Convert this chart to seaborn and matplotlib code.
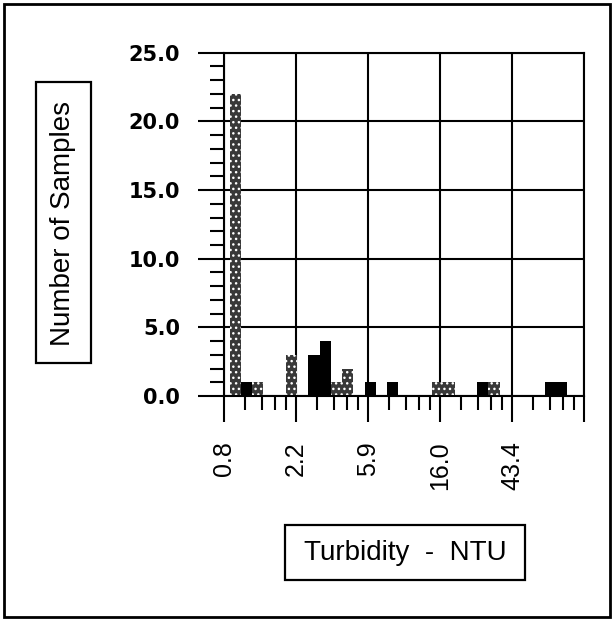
import numpy as np
import matplotlib
matplotlib.use("Agg")
import matplotlib.pyplot as plt
import matplotlib.transforms as mtransforms
from matplotlib.patches import Rectangle
from matplotlib.ticker import FixedLocator, MultipleLocator, NullFormatter
import seaborn as sns

# Bar centres (NTU) and counts
dark_ntu = [1.09, 2.78, 3.24, 6.06, 8.28, 28.9, 73.9, 86.3]
dark_counts = [1, 3, 4, 1, 1, 1, 1, 1]
stip_ntu = [0.93, 1.27, 2.03, 3.79, 4.43, 15.5, 18.1, 33.8]
stip_counts = [22, 1, 3, 1, 2, 1, 1, 1]

# Histogram classes: equal width on the log axis
first_edge = 0.86
bin_ratio = 1.1691
n_bins = 30

# Axis ticks
x_start = 0.795
x_labels = ["0.8", "2.2", "5.9", "16.0", "43.4", ""]
y_ticks = [0, 5, 10, 15, 20, 25]

sns.set_theme(style="ticks")
plt.rcParams["font.family"] = ["Liberation Sans", "DejaVu Sans"]
plt.rcParams["hatch.linewidth"] = 1.0
plt.rcParams["text.color"] = "black"

fig = plt.figure(figsize=(6.15, 6.21), dpi=100)
ax = fig.add_axes([0.3642, 0.3623, 0.5854, 0.5528])

# seaborn bins a log axis in log10 units
bw = np.log10(bin_ratio)
brange = (np.log10(first_edge), np.log10(first_edge) + n_bins * bw)

sns.histplot(x=dark_ntu, weights=dark_counts, binwidth=bw, binrange=brange,
             log_scale=True, color="black", alpha=1, edgecolor="black",
             linewidth=0, ax=ax)
sns.histplot(x=stip_ntu, weights=stip_counts, binwidth=bw, binrange=brange,
             log_scale=True, color="#383838", alpha=1, edgecolor="white",
             linewidth=0, hatch="...", ax=ax)

ax.set_xlabel("")
ax.set_ylabel("")

# x axis: log scale, one grid step = factor e
major = x_start * np.e ** np.arange(6)
minor = [m * (1 + j * (np.e - 1) / 5) for m in major[:-1] for j in range(1, 5)]
ax.set_xlim(major[0], major[-1])
ax.xaxis.set_major_locator(FixedLocator(major))
ax.xaxis.set_minor_locator(FixedLocator(minor))
ax.xaxis.set_minor_formatter(NullFormatter())
ax.set_xticklabels(x_labels, rotation=90, fontsize=18)
shift = mtransforms.ScaledTranslation(4 / 100, 0, fig.dpi_scale_trans)
for lab in ax.get_xticklabels():
    lab.set_transform(lab.get_transform() + shift)

# y axis
ax.set_ylim(0, 25)
ax.set_yticks(y_ticks)
ax.set_yticklabels([f"{v:.1f}" for v in y_ticks], fontsize=15,
                   fontweight="bold", family="DejaVu Sans")
ax.yaxis.set_minor_locator(MultipleLocator(1))

ax.tick_params(axis="both", which="major", length=18.5, width=1.5,
               color="black", labelcolor="black", direction="out",
               bottom=True, left=True)
ax.tick_params(axis="both", which="minor", length=10, width=1.5,
               color="black", direction="out", bottom=True, left=True)
ax.tick_params(axis="y", which="major", pad=13)
ax.tick_params(axis="x", which="major", pad=14)

ax.grid(True, which="major", color="black", linewidth=1.5)
ax.set_axisbelow(True)
for s in ax.spines.values():
    s.set_color("black")
    s.set_linewidth(1.5)

# boxed axis titles and outer frame
fig.add_artist(Rectangle((0.0065, 0.0064), 0.9854, 0.987, transform=fig.transFigure,
                         fill=False, edgecolor="black", linewidth=2))
fig.add_artist(Rectangle((0.0585, 0.4155), 0.0894, 0.4525, transform=fig.transFigure,
                         fill=False, edgecolor="black", linewidth=1.6))
fig.add_artist(Rectangle((0.4642, 0.066), 0.3902, 0.0886, transform=fig.transFigure,
                         fill=False, edgecolor="black", linewidth=1.6))
fig.text(63.5 / 615, 1 - 223.5 / 621, "Number of Samples", rotation=90,
         ha="center", va="center", fontsize=20, color="black")
fig.text(405.5 / 615, 1 - 552.5 / 621, "Turbidity  -  NTU",
         ha="center", va="center", fontsize=20, color="black")

fig.savefig("out.png", dpi=100)
